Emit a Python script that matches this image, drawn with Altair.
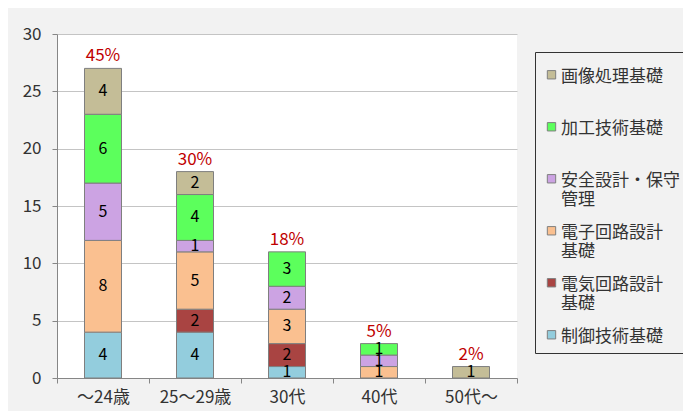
import altair as alt
import pandas as pd

categories = ["～24歳", "25～29歳", "30代", "40代", "50代～"]
# legend order (top -> bottom)
series = ["画像処理基礎", "加工技術基礎", "安全設計・保守管理", "電子回路設計基礎", "電気回路設計基礎", "制御技術基礎"]
colors = ["#C4BD97", "#5CFF5C", "#CCA3E3", "#FAC090", "#A94442", "#93CDDD"]

v_seigyo = [4, 4, 1, 0, 0]
v_denki = [0, 2, 2, 0, 0]
v_denshi = [8, 5, 3, 1, 0]
v_anzen = [5, 1, 2, 1, 0]
v_kakou = [6, 4, 3, 1, 0]
v_gazou = [4, 2, 0, 0, 1]
pct_labels = ["45%", "30%", "18%", "5%", "2%"]

series_values = {
    "制御技術基礎": v_seigyo,
    "電気回路設計基礎": v_denki,
    "電子回路設計基礎": v_denshi,
    "安全設計・保守管理": v_anzen,
    "加工技術基礎": v_kakou,
    "画像処理基礎": v_gazou,
}

rows = []
for s, vals in series_values.items():
    order = len(series) - 1 - series.index(s)  # 0 = bottom of stack
    for i, c in enumerate(categories):
        rows.append({"cat": c, "series": s, "v": vals[i], "ord": order, "pct": pct_labels[i]})
df = pd.DataFrame(rows)

FONT = "Noto Sans CJK JP"

base = alt.Chart(df).transform_filter("datum.v > 0")

x_enc = alt.X("cat:N", sort=categories, title=None,
              scale=alt.Scale(paddingInner=0, paddingOuter=0),
              axis=alt.Axis(labelAngle=0, tickBand="extent", tickSize=5, labelPadding=6,
                            labelFont=FONT, labelFontSize=17, labelColor="#333333",
                            domainColor="#868686", tickColor="#868686", grid=False))

label_expr = ("datum.label == '安全設計・保守管理' ? ['安全設計・保守', '管理'] : "
              "datum.label == '電子回路設計基礎' ? ['電子回路設計', '基礎'] : "
              "datum.label == '電気回路設計基礎' ? ['電気回路設計', '基礎'] : "
              "datum.label == '制御技術基礎' ? [datum.label] : [datum.label, '']")

# square symbol drawn slightly below the label's anchor so it sits on the first text line
SYMBOL = "M-1,0.5H1V2.5H-1Z"

bars = base.mark_bar(size=37, stroke="#7f7f7f", strokeWidth=1).encode(
    x=x_enc,
    y=alt.Y("sum(v):Q", stack="zero", title=None,
            scale=alt.Scale(domain=[0, 30], nice=False),
            axis=alt.Axis(values=[0, 5, 10, 15, 20, 25, 30], tickSize=5, labelPadding=11,
                          labelFont=FONT, labelFontSize=17, labelColor="#333333",
                          domainColor="#868686", tickColor="#868686",
                          gridColor="#c4c4c4", grid=True)),
    color=alt.Color("series:N", scale=alt.Scale(domain=series, range=colors),
                    legend=alt.Legend(title=None, orient="none", legendX=478, legendY=18,
                                      direction="vertical", labelExpr=label_expr,
                                      labelFont=FONT, labelFontSize=17, labelBaseline="top",
                                      labelColor="#333333", labelLimit=300,
                                      symbolType=SYMBOL, symbolSize=70,
                                      symbolStrokeColor="#7f7f7f", symbolStrokeWidth=1,
                                      rowPadding=8, padding=8, fillColor="#f2f2f2",
                                      gridAlign="none",
                                      strokeColor="#333333", labelOffset=1)),
    order=alt.Order("ord:Q", sort="ascending"),
)

seg_text = base.transform_stack(
    stack="v", groupby=["cat"], as_=["y0", "y1"], sort=[alt.SortField("ord", order="ascending")]
).transform_calculate(
    mid="(datum.y0 + datum.y1) / 2"
).mark_text(font=FONT, fontSize=16, color="#000000", baseline="middle").encode(
    x=alt.X("cat:N", sort=categories),
    y=alt.Y("mid:Q"),
    text=alt.Text("v:Q"),
)

pct_text = alt.Chart(df).transform_aggregate(
    total="sum(v)", groupby=["cat", "pct"]
).mark_text(font=FONT, fontSize=17, color="#C00000", baseline="bottom", dy=-3).encode(
    x=alt.X("cat:N", sort=categories),
    y=alt.Y("total:Q"),
    text=alt.Text("pct:N"),
)

chart = alt.layer(bars, seg_text, pct_text).properties(
    width=460, height=344,
    padding={"left": 49, "top": 26, "right": 166, "bottom": 33},
    autosize=alt.AutoSizeParams(type="none"),
    background="#f2f2f2",
).configure_view(fill="white", stroke=None)

chart.save("out.html", embed_options={"renderer": "svg", "actions": False})
